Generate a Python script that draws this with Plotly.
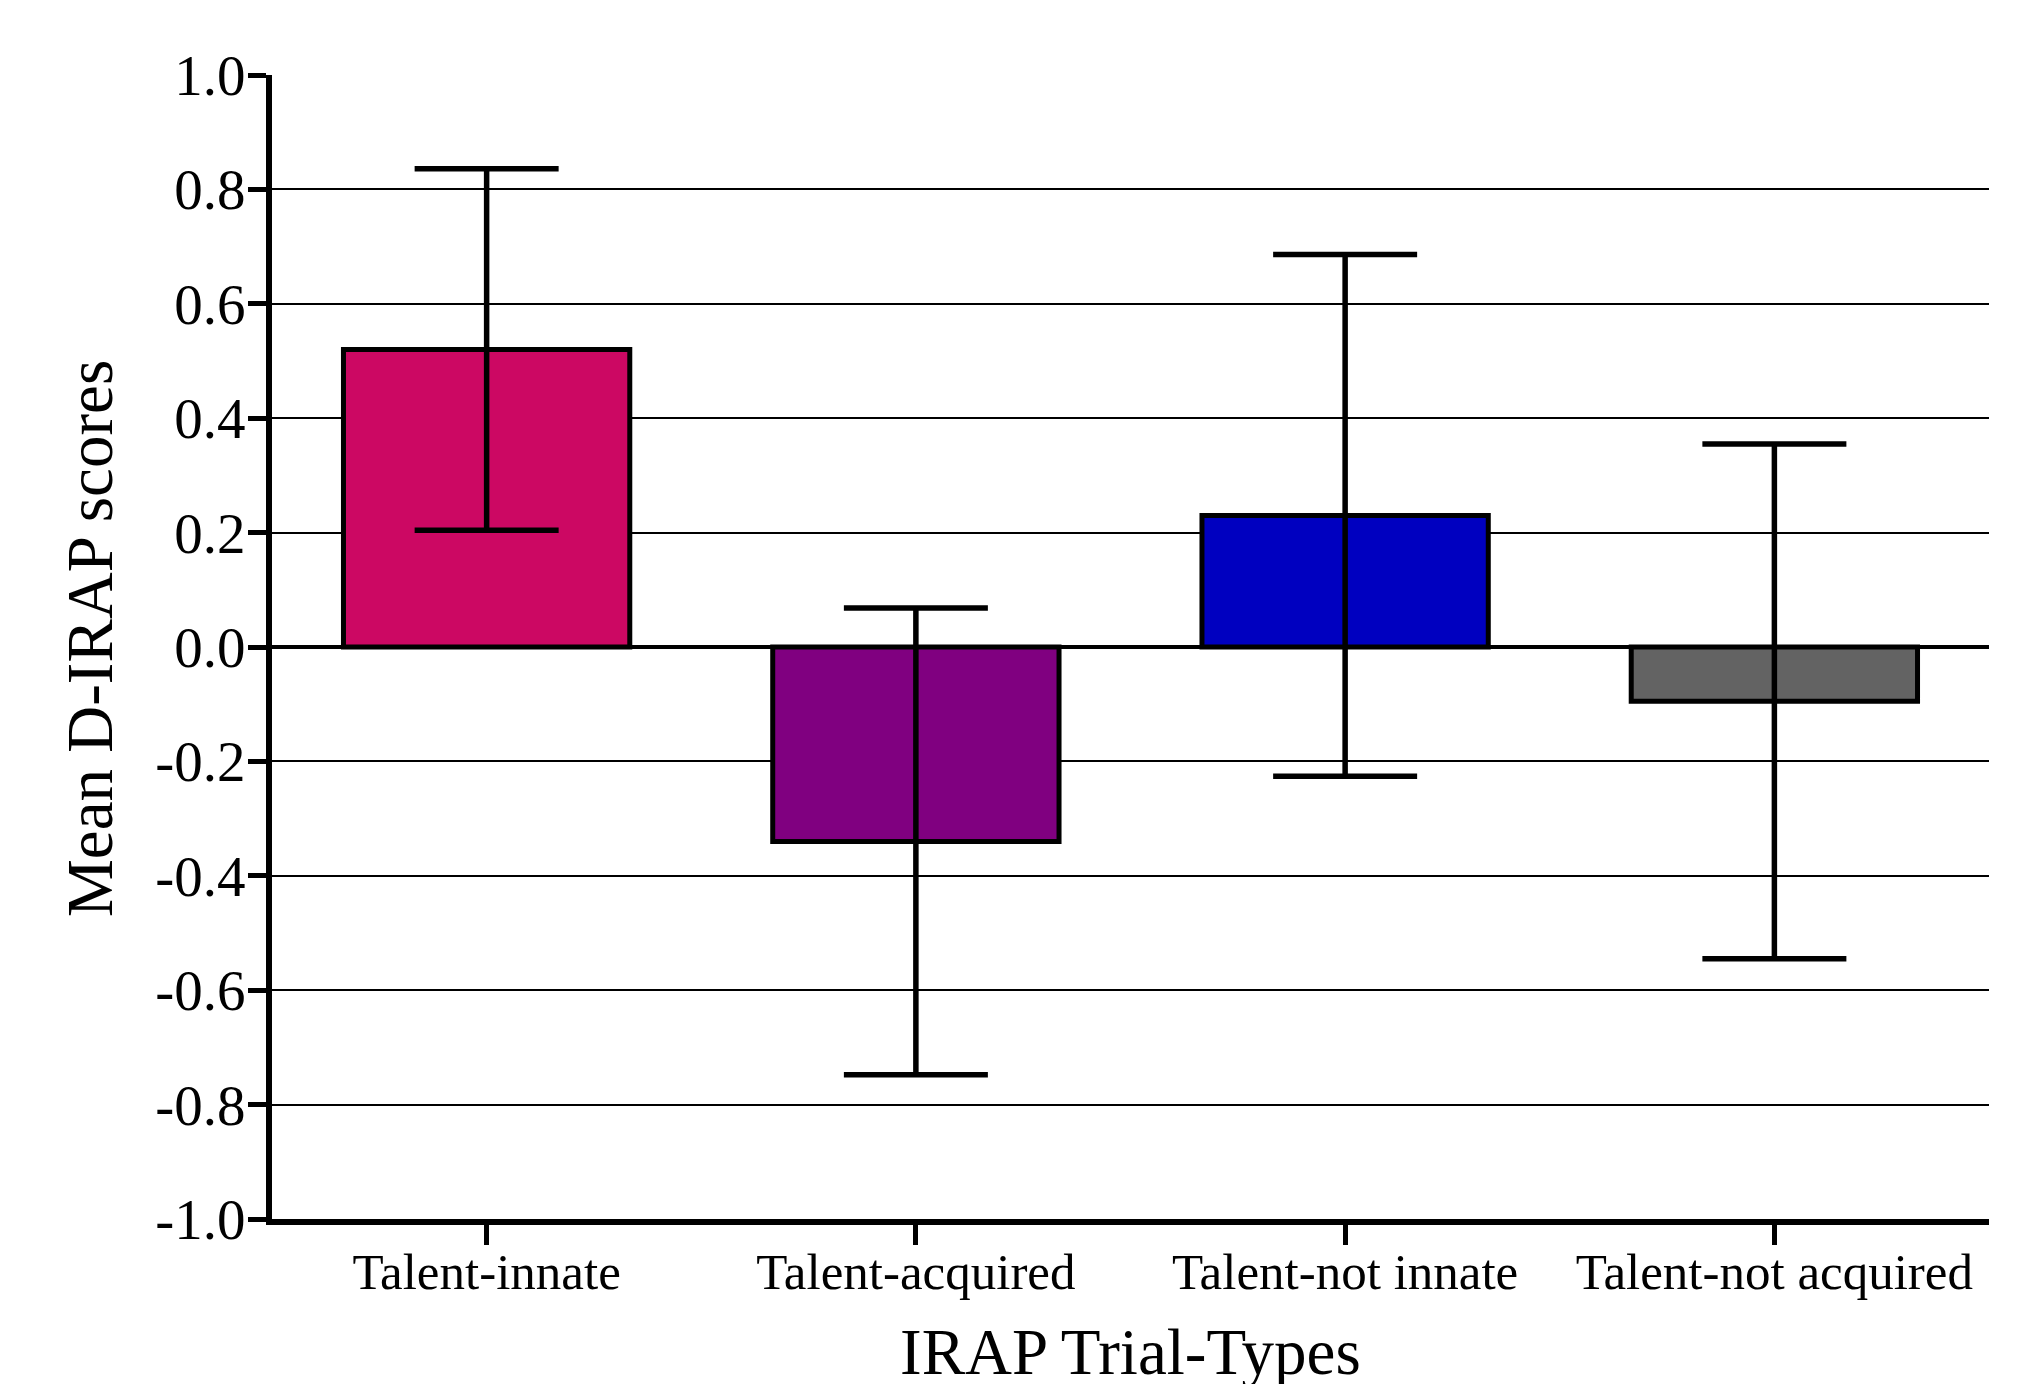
import plotly.graph_objects as go

# IRAP trial-type means with error bar half-widths
trial_types = ["Talent-innate", "Talent-acquired", "Talent-not innate", "Talent-not acquired"]
mean_scores = [0.52, -0.34, 0.23, -0.095]
error_values = [0.316, 0.408, 0.456, 0.45]
bar_colors = ["#CC0863", "#800080", "#0000C0", "#636363"]
y_ticks = [-1.0, -0.8, -0.6, -0.4, -0.2, 0.0, 0.2, 0.4, 0.6, 0.8, 1.0]

FONT = "Liberation Serif"

fig = go.Figure(
    go.Bar(
        x=trial_types,
        y=mean_scores,
        width=0.667,
        marker=dict(color=bar_colors, line=dict(color="black", width=5)),
        error_y=dict(type="data", array=error_values, visible=True,
                     color="black", thickness=5.5, width=72),
    )
)

fig.update_layout(
    width=2029,
    height=1384,
    margin=dict(l=272, r=40, t=75, b=165),
    paper_bgcolor="white",
    plot_bgcolor="white",
    showlegend=False,
    font=dict(family=FONT, color="black"),
    xaxis=dict(
        range=[-0.5, 3.5],
        showline=True, linecolor="black", linewidth=6,
        ticks="outside", ticklen=20, tickwidth=5, tickcolor="black",
        tickfont=dict(size=51, family=FONT),
        ticklabelstandoff=-17,
        showgrid=False, zeroline=False,
    ),
    yaxis=dict(
        range=[-1.0, 1.0],
        tickvals=y_ticks,
        ticktext=[f"{v:.1f}" for v in y_ticks],
        showline=True, linecolor="black", linewidth=6,
        ticks="outside", ticklen=18, tickwidth=5, tickcolor="black",
        tickfont=dict(size=57, family=FONT),
        ticklabelstandoff=-9,
        showgrid=True, gridcolor="black", gridwidth=2,
        zeroline=True, zerolinecolor="black", zerolinewidth=4,
    ),
    annotations=[
        dict(text="Mean D-IRAP scores", xref="paper", yref="paper",
             x=(90 - 272) / 1717, y=0.507, xanchor="center", yanchor="middle",
             textangle=-90, showarrow=False, font=dict(size=65, family=FONT)),
        dict(text="IRAP Trial-Types", xref="paper", yref="paper",
             x=0.5, y=(1219 - 1352) / 1144, xanchor="center", yanchor="middle",
             showarrow=False, font=dict(size=65, family=FONT)),
    ],
)

fig.write_html("out.html")
